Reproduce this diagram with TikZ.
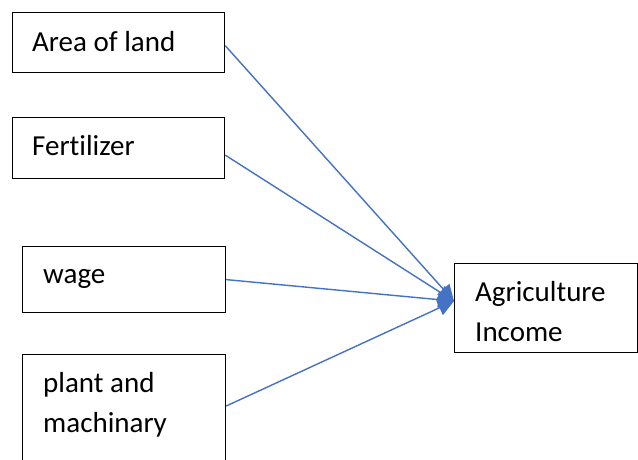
\documentclass[tikz,border=0pt]{standalone}
\usepackage{fontspec}
\setmainfont[Ligatures={NoCommon}]{Carlito}
\usetikzlibrary{arrows.meta,calc}
\begin{document}
\begin{tikzpicture}[x=1pt,y=-1pt,
  box/.style={draw=black,line width=1.2pt,rectangle,anchor=north west,inner sep=0pt},
  lbl/.style={anchor=base west,inner sep=0pt,font=\fontsize{29}{40}\selectfont,align=left},
  conn/.style={draw={rgb,255:red,68;green,114;blue,196},line width=1.4pt,
    -{Triangle[length=16pt,width=16pt,fill={rgb,255:red,68;green,114;blue,196}]}}]
\useasboundingbox (0,0) rectangle (638,459);
\clip (0,0) rectangle (638,459);
\fill[white] (0,0) rectangle (638,459);
\node[box,minimum width=212pt,minimum height=60pt] (b1) at (12,12) {};
\node[box,minimum width=212pt,minimum height=61pt] (b2) at (12,117) {};
\node[box,minimum width=203pt,minimum height=66pt] (b3) at (22,246) {};
\node[box,minimum width=203pt,minimum height=130pt] (b4) at (22,354) {};
\node[box,minimum width=183pt,minimum height=89pt] (b5) at (454,263) {};
\node[lbl] (t1) at (32,51) {Area of land};
\node[lbl] (t2) at (32,155) {Fertilizer};
\node[lbl] (t3) at (43,283) {wage};
\node[lbl] (t4) at (43,432) {plant and\\machinary};
\node[lbl] (t5) at (475,341) {Agriculture\\Income};
\coordinate (tip) at ($(b5.west)+(0,-7)$);
\draw[conn] ($(b1.east)+(0,3)$) -- (tip);
\draw[conn] ($(b2.east)+(0,7)$) -- (tip);
\draw[conn] (b3.east) -- (tip);
\draw[conn] ($(b4.north east)+(0,52)$) -- (tip);
\end{tikzpicture}
\end{document}
